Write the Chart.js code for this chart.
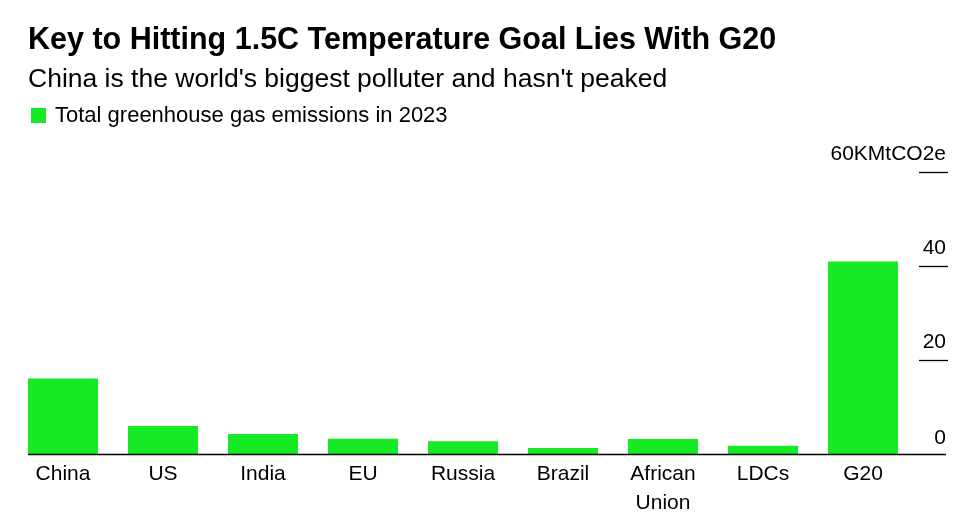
<!DOCTYPE html>
<html>
<head>
<meta charset="utf-8">
<script src="https://cdn.jsdelivr.net/npm/chart.js@4.4.0/dist/chart.umd.min.js"></script>
<style>
  body { margin: 0; background: #fff; font-family: "Liberation Sans", Arial, sans-serif; color: #000; }
  #wrap { position: relative; width: 968px; height: 519px; }
  #chart { position: absolute; left: 0; top: 0; }
  .title { position: absolute; left: 28px; top: 23px; font-size: 30.5px; line-height: 1; font-weight: bold; margin: 0; white-space: nowrap; }
  .subtitle { position: absolute; left: 28px; top: 65px; font-size: 26.5px; line-height: 1; margin: 0; white-space: nowrap; }
  .legend { position: absolute; left: 31px; top: 104px; font-size: 22px; line-height: 1; white-space: nowrap; }
  .legend span.box { display: inline-block; width: 15px; height: 15px; background: #15ea25; margin-right: 9px; vertical-align: -1px; }
</style>
</head>
<body>
<div id="wrap">
  <canvas id="chart" width="968" height="519"></canvas>
  <h1 class="title">Key to Hitting 1.5C Temperature Goal Lies With G20</h1>
  <p class="subtitle">China is the world's biggest polluter and hasn't peaked</p>
  <div class="legend"><span class="box"></span>Total greenhouse gas emissions in 2023</div>
</div>
<script>
const categories = ["China", "US", "India", "EU", "Russia", "Brazil", ["African", "Union"], "LDCs", "G20"];
const emissions = [16.1, 6.0, 4.3, 3.3, 2.8, 1.35, 3.25, 1.8, 41.0];
const yTicks = [0, 20, 40, 60];
const yTickLabels = ["0", "20", "40", "60KMtCO2e"];

// right-hand tick marks + labels, and the zero baseline
const axisPlugin = {
    id: "axisPlugin",
    afterDraw(chart) {
        const ctx = chart.ctx;
        const y = chart.scales.y;
        ctx.save();
        ctx.strokeStyle = "#000";
        ctx.lineWidth = 1.3;
        ctx.fillStyle = "#000";
        ctx.font = "21px 'Liberation Sans', Arial, sans-serif";
        ctx.textAlign = "right";
        ctx.textBaseline = "alphabetic";
        yTicks.forEach((v, i) => {
            const py = Math.round(y.getPixelForValue(v)) + 0.5;
            ctx.beginPath();
            if (v === 0) {
                ctx.moveTo(28, py);
                ctx.lineTo(946, py);
            } else {
                ctx.moveTo(919, py);
                ctx.lineTo(948, py);
            }
            ctx.stroke();
            ctx.fillText(yTickLabels[i], 946, py - (v === 0 ? 11 : 13));
        });
        ctx.restore();
    }
};

const ctx = document.getElementById("chart").getContext("2d");
new Chart(ctx, {
    type: "bar",
    data: {
        labels: categories,
        datasets: [{
            label: "Total greenhouse gas emissions in 2023",
            data: emissions,
            backgroundColor: "#15ea25",
            barPercentage: 0.7,
            categoryPercentage: 1.0
        }]
    },
    options: {
        responsive: false,
        animation: false,
        layout: { padding: { left: 13, right: 55, top: 172, bottom: -4 } },
        plugins: { legend: { display: false }, tooltip: { enabled: false } },
        scales: {
            x: {
                grid: { display: false, drawTicks: false },
                border: { display: false },
                ticks: {
                    color: "#000",
                    font: { family: "'Liberation Sans', Arial, sans-serif", size: 21, lineHeight: 1.35 },
                    padding: 6,
                    maxRotation: 0,
                    autoSkip: false
                }
            },
            y: {
                display: false,
                min: 0,
                max: 60
            }
        }
    },
    plugins: [axisPlugin]
});
</script>
</body>
</html>
